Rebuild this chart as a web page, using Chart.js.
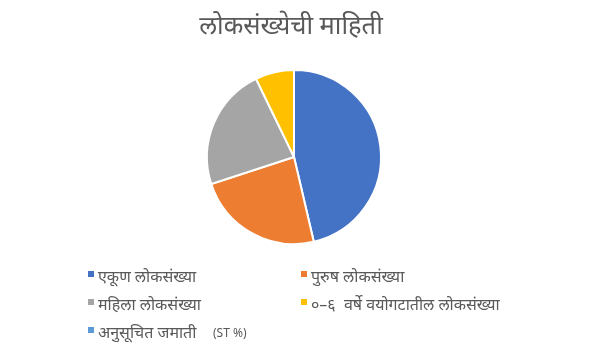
<!DOCTYPE html>
<html lang="mr">
<head>
  <meta charset="UTF-8">
  <title>लोकसंख्येची माहिती</title>
  <script src="https://cdn.jsdelivr.net/npm/chart.js"></script>
  <style>
    body { margin: 0; background: #fff; font-family: "Noto Sans", "DejaVu Sans", sans-serif; color: #595959; }
    #wrap { position: relative; width: 594px; height: 356px; }
    #chart { position: absolute; left: 0; top: 0; }
    h2 { position: absolute; left: -6px; width: 594px; top: 7px; margin: 0; text-align: center;
         font-weight: normal; font-size: 25.5px; color: #595959; }
    .item { position: absolute; font-size: 16px; white-space: pre; line-height: 20px; }
    .item i { display: inline-block; width: 6px; height: 6px; margin-right: 4px; vertical-align: 5px; }
    .item small { position: absolute; left: 125px; top: 1px; font-size: 12px; }
  </style>
</head>
<body>
<div id="wrap">
  <canvas id="chart" width="594" height="356"></canvas>
  <h2>लोकसंख्येची माहिती</h2>
  <div id="legend"></div>
</div>
<script>
  const labels = ["एकूण लोकसंख्या", "पुरुष लोकसंख्या", "महिला लोकसंख्या", "०–६  वर्षे वयोगटातील लोकसंख्या", "अनुसूचित जमाती"];
  const values = [2010, 1025, 990, 312, 0];
  const colors = ["#4472C4", "#ED7D31", "#A5A5A5", "#FFC000", "#5B9BD5"];

  new Chart(document.getElementById("chart"), {
    type: "pie",
    data: { labels, datasets: [{ data: values, backgroundColor: colors, borderColor: "#fff", borderWidth: 2 }] },
    options: {
      responsive: false,
      animation: false,
      layout: { padding: { top: 69, bottom: 111, left: 206, right: 212 } },
      plugins: { legend: { display: false }, title: { display: false }, tooltip: { enabled: false } }
    }
  });

  // Legend, two columns
  const legend = document.getElementById("legend");
  const spots = [[88, 266], [301, 266], [88, 294], [301, 294], [88, 322]];
  labels.forEach((lab, i) => {
    const d = document.createElement("div");
    d.className = "item";
    d.style.left = spots[i][0] + "px";
    d.style.top = spots[i][1] + "px";
    d.innerHTML = `<i style="background:${colors[i]}"></i>${lab}` + (i === 4 ? "<small>(ST %)</small>" : "");
    legend.appendChild(d);
  });
</script>
</body>
</html>
